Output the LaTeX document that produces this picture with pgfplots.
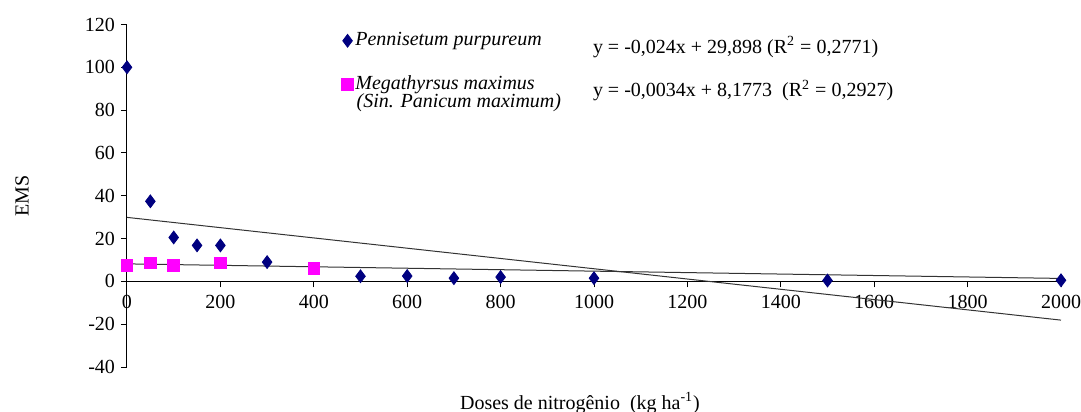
\documentclass[border=0pt]{standalone}
\usepackage{pgfplots}
\pgfplotsset{compat=1.18}
\usepackage{fontspec}
\setmainfont{Liberation Serif}
\definecolor{navyd}{RGB}{0,0,128}
\definecolor{mag}{RGB}{255,0,255}
\begin{document}
\begin{tikzpicture}[font=\fontsize{10}{12}\selectfont]
\begin{axis}[
  name=ax,
  scale only axis,
  width=467pt, height=171.25pt,
  axis x line=middle,
  axis y line=left,
  axis line style={-, black, line width=0.5pt},
  xmin=0, xmax=2000, ymin=-40, ymax=120,
  xtick={0,200,...,2000},
  ytick={-40,-20,...,120},
  hide obscured x ticks=false,
  hide obscured y ticks=false,
  tick align=center,
  major tick length=3pt,
  every tick/.style={draw=black, line width=0.5pt},
  every x tick/.append style={yshift=-1.5pt},
  every y tick/.append style={xshift=-1.5pt},
  /pgf/number format/assume math mode=true,
  /pgf/number format/1000 sep={},
  xticklabel style={font=\fontsize{10}{12}\selectfont, yshift=-2pt},
  yticklabel style={font=\fontsize{10}{12}\selectfont, xshift=-1pt},
  xlabel={Doses de nitrogênio\ \ (kg ha\textsuperscript{-1})},
  ylabel={EMS},
  every axis x label/.style={at={(rel axis cs:0.485,0)}, anchor=center, yshift=-18pt},
  every axis y label/.style={at={(rel axis cs:0,0.5)}, xshift=-52.5pt, anchor=center, rotate=90},
  clip=false,
  legend style={at={(axis cs:459,117.3)}, anchor=north west, draw=none, fill=none,
    font=\fontsize{10}{12}\selectfont\itshape, row sep=11.5pt, inner sep=0pt,
    nodes={inner sep=1pt}},
  legend cell align=left,
  legend image code/.code={\draw[#1] plot coordinates {(0.14cm,0cm)};},
]
\addplot[only marks, mark=diamond*, mark size=3.2pt, color=navyd] coordinates {
(0,100) (50,37.4) (100,20.5) (150,16.8) (200,16.8) (300,9) (500,2.4) (600,2.5)
(700,1.5) (800,2) (1000,1.5) (1500,0.4) (2000,0.5)};
\addlegendentry{Pennisetum purpureum}
\addplot[only marks, mark=square*, mark size=2.9pt, color=mag] coordinates {
(0,7.5) (50,8.6) (100,7.6) (200,8.6) (400,6.2)};
\addlegendentry{Megathyrsus maximus}
\addplot[no marks, black!80, line width=0.5pt, forget plot] coordinates {(0,29.898) (2000,-18.102)};
\addplot[no marks, black!80, line width=0.5pt, forget plot] coordinates {(0,8.1773) (2000,1.3773)};
\node[anchor=west, inner sep=0pt, font=\fontsize{10}{12}\selectfont\itshape] at (axis cs:491,83.4) {(Sin. Panicum maximum)};
\node[anchor=west, inner sep=0pt] at (axis cs:997,109.5) {y = -0,024x\ + 29,898 (R\textsuperscript{2} = 0,2771)};
\node[anchor=west, inner sep=0pt] at (axis cs:997,89) {y = -0,0034x + 8,1773\ \ (R\textsuperscript{2} = 0,2927)};
\end{axis}
\pgfresetboundingbox
\path[use as bounding box] ([shift={(-63.5pt,-22.5pt)}]ax.south west) rectangle ([shift={(10pt,12.25pt)}]ax.north east);
\end{tikzpicture}
\end{document}
